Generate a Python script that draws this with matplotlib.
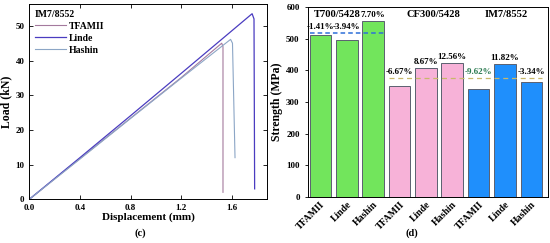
import matplotlib
matplotlib.use("Agg")
import matplotlib.pyplot as plt
import numpy as np

plt.rcParams["font.family"] = ["Liberation Serif", "DejaVu Serif"]
plt.rcParams["font.weight"] = "bold"

# --- panel (c): load-displacement curves, IM7/8552 ---
tfamii_x = [0.0, 0.4, 0.8, 1.2, 1.52, 1.53, 1.53]
tfamii_y = [0.0, 11.7, 23.4, 35.1, 45.0, 44.0, 2.0]
linde_x = [0.0, 0.4, 0.8, 1.2, 1.76, 1.775, 1.78]
linde_y = [0.0, 12.0, 24.1, 36.3, 53.5, 52.0, 3.0]
hashin_x = [0.0, 0.4, 0.8, 1.2, 1.59, 1.605, 1.625]
hashin_y = [0.0, 11.6, 23.3, 34.9, 46.1, 45.0, 12.0]

# --- panel (d): strength bars ---
bar_labels = ["TFAMII", "Linde", "Hashin"] * 3
strength = [510.2, 497.1, 557.3, 350.9, 408.6, 423.2, 339.5, 420.4, 363.4]
deviation = ["-1.41%", "-3.94%", "7.70%", "-6.67%", "8.67%", "12.56%",
             "-9.62%", "11.82%", "-3.34%"]
groups = ["T700/5428", "CF300/5428", "IM7/8552"]
exp_strength = [517.5, 376.0]

fig = plt.figure(figsize=(5.5, 2.43), dpi=100)

ax1 = fig.add_axes([0.0533, 0.18, 0.432, 0.8035])
ax1.plot(tfamii_x, tfamii_y, color="#a47a9e", lw=0.8, label="TFAMII")
ax1.plot(linde_x, linde_y, color="#4a3cc0", lw=0.9, label="Linde")
ax1.plot(hashin_x, hashin_y, color="#8ca6c6", lw=0.8, label="Hashin")
ax1.set_xlim(0, 1.877)
ax1.set_ylim(0, 56.3)
ax1.set_xticks([0.0, 0.4, 0.8, 1.2, 1.6])
ax1.set_yticks([0, 10, 20, 30, 40, 50])
ax1.tick_params(direction="in", top=True, right=True, labelsize=6.5, length=3, width=0.6)
for s in ax1.spines.values():
    s.set_linewidth(0.7)
ax1.set_xlabel("Displacement (mm)", fontsize=8, fontweight="bold", labelpad=0)
ax1.set_ylabel("Load (kN)", fontsize=8.5, fontweight="bold", labelpad=2)
leg = ax1.legend(title="IM7/8552", loc="upper left", frameon=False, fontsize=7,
                 title_fontsize=7, handlelength=3.2, borderaxespad=0.2,
                 labelspacing=0.3, handletextpad=0.3)
leg._legend_box.align = "left"
leg.get_title().set_fontweight("bold")
fig.text(0.255, 0.04, "(c)", fontsize=7.5, ha="center", va="center")

ax2 = fig.add_axes([0.56, 0.19, 0.4364, 0.781])
pos = np.arange(len(strength))
colors = ["#72e55c"] * 3 + ["#f7b2d8"] * 3 + ["#1f8ffc"] * 3
ax2.bar(pos, strength, width=0.82, color=colors, edgecolor="#5b6070", linewidth=0.7)
for i, (v, t) in enumerate(zip(strength, deviation)):
    y = max(v, exp_strength[0 if i < 3 else 1]) + 6
    c = "#2a7a50" if t == "-9.62%" else "black"
    ax2.text(pos[i], y, t, ha="center", va="bottom", fontsize=6.5, color=c)
ax2.hlines(exp_strength[0], pos[0] - 0.41, pos[2] + 0.41, colors="#2e6fd8",
           linestyles=(0, (3, 2)), lw=1.1)
ax2.hlines(exp_strength[1], pos[3] - 0.41, pos[8] + 0.41, colors="#c8b86a",
           linestyles=(0, (4, 3)), lw=0.9)
ax2.text(0.64, 575, groups[0], ha="center", va="center", fontsize=7.6)
ax2.text(4.3, 575, groups[1], ha="center", va="center", fontsize=7.6)
ax2.text(7.05, 575, groups[2], ha="center", va="center", fontsize=7.6)
ax2.set_xlim(-0.47, 8.63)
ax2.set_ylim(0, 600)
ax2.set_yticks(range(0, 601, 100))
ax2.set_xticks(pos)
ax2.set_xticklabels(bar_labels, rotation=45, ha="right", rotation_mode="anchor")
ax2.tick_params(axis="x", length=0, labelsize=7, pad=2)
ax2.tick_params(axis="y", labelsize=6.5, length=2.5, width=0.6)
for s in ax2.spines.values():
    s.set_linewidth(0.7)
ax2.set_ylabel("Strength (MPa)", fontsize=8.5, fontweight="bold", labelpad=2)
fig.text(0.748, 0.04, "(d)", fontsize=7.5, ha="center", va="center")

fig.savefig("out.png", dpi=100)
